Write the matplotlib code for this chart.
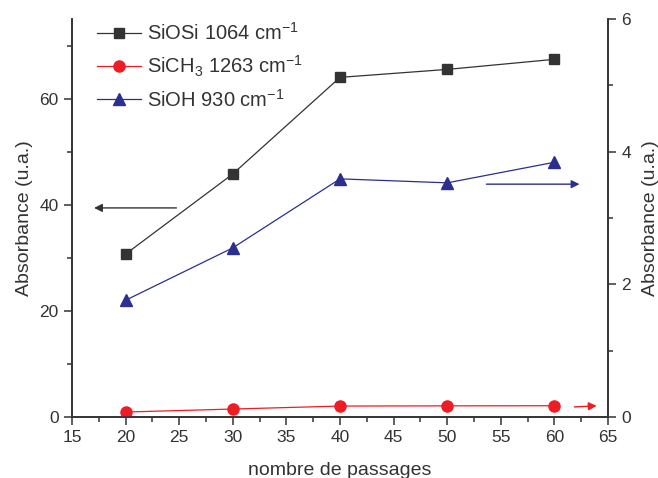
import matplotlib
matplotlib.use("Agg")
import matplotlib.pyplot as plt
from matplotlib.ticker import MultipleLocator

plt.rcParams['font.family'] = ['Liberation Sans', 'DejaVu Sans']
plt.rcParams['mathtext.fontset'] = 'custom'
plt.rcParams['mathtext.rm'] = 'Liberation Sans'
plt.rcParams['mathtext.it'] = 'Liberation Sans:italic'
plt.rcParams['mathtext.bf'] = 'Liberation Sans:bold'

passages = [20, 30, 40, 50, 60]
siosi = [30.7, 45.8, 64.0, 65.5, 67.4]
sich3 = [0.075, 0.12, 0.165, 0.168, 0.17]
sioh = [1.76, 2.55, 3.59, 3.53, 3.84]

label_siosi = "SiOSi 1064 cm$^{-1}$"
label_sich3 = "SiCH$_3$ 1263 cm$^{-1}$"
label_sioh = "SiOH 930 cm$^{-1}$"

c_black = "#333333"
c_red = "#ee1c24"
c_blue = "#2b2f8f"

fig = plt.figure(figsize=(6.58, 4.78), dpi=100)
ax = fig.add_axes([72/658, 61/478, 536/658, 398/478])
ax2 = ax.twinx()

l1, = ax.plot(passages, siosi, color=c_black, lw=0.9, marker='s', ms=7, label=label_siosi)
l2, = ax2.plot(passages, sich3, color=c_red, lw=0.9, marker='o', ms=8, label=label_sich3)
l3, = ax2.plot(passages, sioh, color=c_blue, lw=0.9, marker='^', ms=9, label=label_sioh)

ax.set_xlim(15, 65)
ax.set_ylim(0, 75)
ax2.set_ylim(0, 6)

ax.xaxis.set_major_locator(MultipleLocator(5))
ax.xaxis.set_minor_locator(MultipleLocator(2.5))
ax.yaxis.set_major_locator(MultipleLocator(20))
ax.yaxis.set_minor_locator(MultipleLocator(10))
ax2.yaxis.set_major_locator(MultipleLocator(2))
ax2.yaxis.set_minor_locator(MultipleLocator(1))

for a in (ax, ax2):
    a.spines['top'].set_visible(False)
    for s in a.spines.values():
        s.set_color(c_black)
        s.set_linewidth(1.2)
    a.tick_params(which='major', direction='out', length=6, width=1.1, colors=c_black, labelsize=12.5, labelcolor=c_black)
    a.tick_params(which='minor', direction='out', length=3.5, width=1.1, colors=c_black)

ax.set_xlabel("nombre de passages", fontsize=14, color=c_black, labelpad=12)
ax.set_ylabel("Absorbance (u.a.)", fontsize=14, color=c_black, labelpad=5)
ax2.set_ylabel("Absorbance (u.a.)", fontsize=14, color=c_black, labelpad=8)

ax.annotate('', xy=(16.8, 39.4), xytext=(25.0, 39.4),
            arrowprops=dict(arrowstyle='-|>', color=c_black, lw=1, mutation_scale=12))
ax2.annotate('', xy=(62.6, 3.51), xytext=(53.4, 3.51),
             arrowprops=dict(arrowstyle='-|>', color=c_blue, lw=1, mutation_scale=12))
ax2.annotate('', xy=(64.2, 0.17), xytext=(61.6, 0.15),
             arrowprops=dict(arrowstyle='-|>', color=c_red, lw=1, mutation_scale=12))

leg = ax.legend(handles=[l1, l2, l3], loc='upper left', bbox_to_anchor=(0.012, 1.037),
                frameon=False, fontsize=14.5, handlelength=2.2, labelspacing=0.47,
                handletextpad=0.3, labelcolor=c_black)

fig.savefig("out.png", dpi=100)
